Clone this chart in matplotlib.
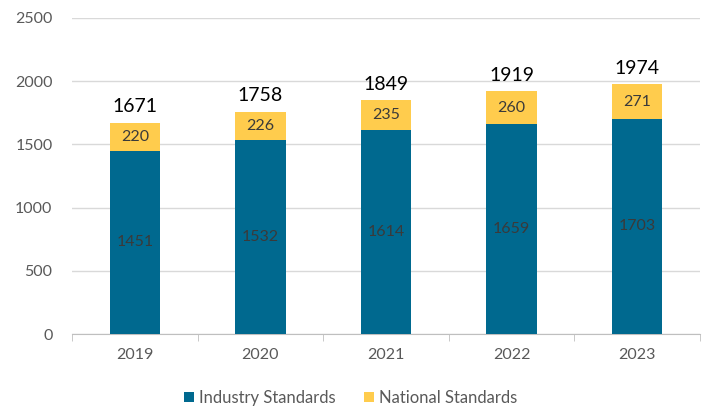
import numpy as np
import matplotlib
matplotlib.use("Agg")
import matplotlib.pyplot as plt

plt.rcParams['font.family'] = ['Lato', 'DejaVu Sans']

years = ['2019', '2020', '2021', '2022', '2023']
industry = [1451, 1532, 1614, 1659, 1703]
national = [220, 226, 235, 260, 271]
totals = [1671, 1758, 1849, 1919, 1974]

blue = '#00698F'
yellow = '#FFCC4D'

fig = plt.figure(figsize=(7.06, 4.20), dpi=100)
ax = fig.add_axes([72 / 706, 1 - 334 / 420, (700 - 72) / 706, (334 - 18) / 420])

x = np.arange(len(years))
w = 0.4
b1 = ax.bar(x, industry, w, color=blue, label='Industry Standards', zorder=3)
b2 = ax.bar(x, national, w, bottom=industry, color=yellow, label='National Standards', zorder=3)

for i in range(len(years)):
    ax.text(x[i], industry[i] / 2, str(industry[i]), ha='center', va='center',
            fontsize=11.5, color='#3a3a3a', zorder=4)
    ax.text(x[i], industry[i] + national[i] / 2, str(national[i]), ha='center', va='center',
            fontsize=11.5, color='#3a3a3a', zorder=4)
    ax.text(x[i], totals[i] + 60, str(totals[i]), ha='center', va='bottom',
            fontsize=14, color='black', zorder=4)

ax.set_xlim(-0.5, len(years) - 0.5)
ax.set_ylim(0, 2500)
ax.set_yticks(np.arange(0, 2501, 500))
ax.yaxis.grid(True, color='#D9D9D9', linewidth=1, zorder=0)
ax.set_axisbelow(True)

ax.set_xticks(x)
ax.set_xticklabels(years)
ax.set_xticks(np.arange(-0.5, len(years), 1), minor=True)
ax.tick_params(axis='x', which='major', length=0, pad=10, labelsize=11.5, labelcolor='#595959')
ax.tick_params(axis='x', which='minor', length=5, color='#BFBFBF')
ax.tick_params(axis='y', length=0, pad=14, labelsize=11.5, labelcolor='#595959')

for s in ['top', 'right', 'left']:
    ax.spines[s].set_visible(False)
ax.spines['bottom'].set_color('#BFBFBF')

fig.legend(handles=[b1, b2], loc='center', bbox_to_anchor=(0.497, 1 - 398 / 420), ncol=2,
           frameon=False, fontsize=12, handlelength=0.6, handleheight=0.6,
           columnspacing=1.7, handletextpad=0.3, labelcolor='#595959')

fig.savefig('out.png', dpi=100)
